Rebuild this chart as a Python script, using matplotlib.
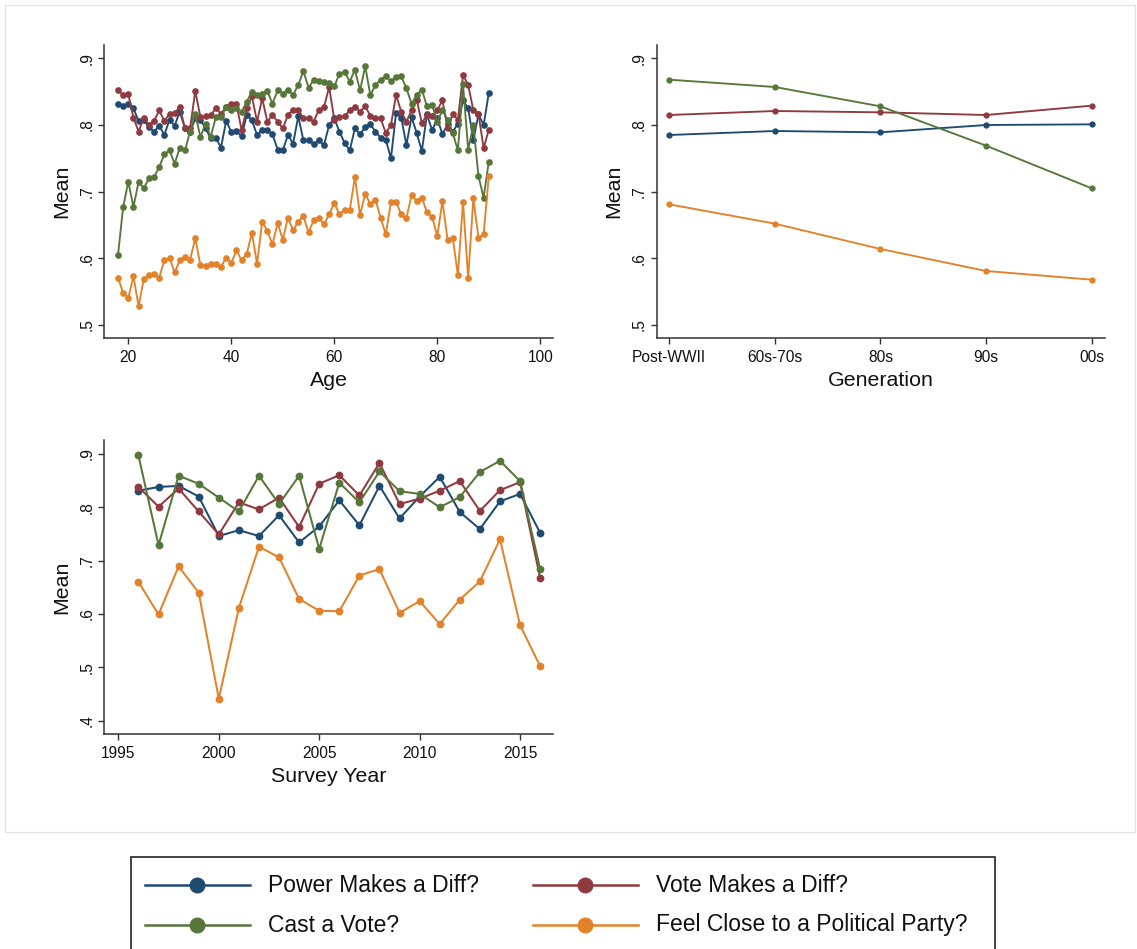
import matplotlib
matplotlib.use("Agg")
import matplotlib.pyplot as plt
from matplotlib.lines import Line2D
from matplotlib.patches import Rectangle
from matplotlib.ticker import FuncFormatter

plt.rcParams['font.family'] = ['Liberation Sans', 'DejaVu Sans']

# ---- data -------------------------------------------------------------
series_names = ["Power Makes a Diff?", "Vote Makes a Diff?",
                "Cast a Vote?", "Feel Close to a Political Party?"]
colors = ["#1f4a72", "#8f3a40", "#57773a", "#e2822a"]

ages = list(range(18, 91))
age_power = [0.831, 0.828, 0.832, 0.825, 0.806, 0.807, 0.797, 0.790, 0.799, 0.785,
             0.808, 0.799, 0.820, 0.795, 0.789, 0.810, 0.808, 0.795, 0.780, 0.781,
             0.766, 0.806, 0.790, 0.791, 0.783, 0.815, 0.807, 0.785, 0.793, 0.792,
             0.786, 0.763, 0.762, 0.785, 0.772, 0.813, 0.777, 0.778, 0.771, 0.777,
             0.770, 0.800, 0.810, 0.790, 0.773, 0.762, 0.795, 0.786, 0.797, 0.801,
             0.790, 0.781, 0.778, 0.750, 0.818, 0.811, 0.770, 0.812, 0.788, 0.761,
             0.816, 0.792, 0.810, 0.786, 0.801, 0.790, 0.802, 0.837, 0.825, 0.777,
             0.816, 0.800, 0.848]
age_vote = [0.852, 0.845, 0.846, 0.811, 0.790, 0.811, 0.800, 0.806, 0.822, 0.806,
            0.817, 0.818, 0.827, 0.795, 0.795, 0.851, 0.812, 0.813, 0.815, 0.825,
            0.817, 0.827, 0.831, 0.832, 0.792, 0.825, 0.843, 0.805, 0.840, 0.805,
            0.815, 0.805, 0.795, 0.815, 0.823, 0.823, 0.810, 0.810, 0.805, 0.823,
            0.827, 0.857, 0.808, 0.812, 0.813, 0.822, 0.827, 0.820, 0.828, 0.814,
            0.810, 0.810, 0.788, 0.800, 0.845, 0.820, 0.805, 0.822, 0.838, 0.803,
            0.815, 0.813, 0.822, 0.837, 0.795, 0.816, 0.808, 0.875, 0.860, 0.822,
            0.817, 0.765, 0.793]
age_cast = [0.605, 0.677, 0.715, 0.677, 0.715, 0.705, 0.720, 0.722, 0.737, 0.756,
            0.762, 0.742, 0.766, 0.762, 0.790, 0.817, 0.782, 0.802, 0.782, 0.812,
            0.812, 0.827, 0.822, 0.825, 0.820, 0.835, 0.850, 0.845, 0.847, 0.851,
            0.832, 0.852, 0.847, 0.853, 0.845, 0.860, 0.881, 0.856, 0.868, 0.866,
            0.865, 0.863, 0.858, 0.877, 0.880, 0.865, 0.883, 0.852, 0.888, 0.845,
            0.860, 0.868, 0.873, 0.866, 0.872, 0.873, 0.855, 0.832, 0.845, 0.853,
            0.828, 0.830, 0.805, 0.822, 0.808, 0.788, 0.762, 0.861, 0.763, 0.800,
            0.723, 0.691, 0.745]
age_close = [0.571, 0.548, 0.541, 0.573, 0.528, 0.569, 0.575, 0.577, 0.571, 0.597,
             0.601, 0.579, 0.597, 0.602, 0.598, 0.630, 0.590, 0.588, 0.591, 0.591,
             0.587, 0.601, 0.593, 0.612, 0.597, 0.607, 0.638, 0.592, 0.655, 0.641,
             0.621, 0.653, 0.628, 0.661, 0.642, 0.655, 0.663, 0.639, 0.657, 0.661,
             0.651, 0.666, 0.683, 0.666, 0.673, 0.672, 0.722, 0.665, 0.697, 0.681,
             0.688, 0.661, 0.636, 0.684, 0.684, 0.666, 0.660, 0.695, 0.686, 0.691,
             0.669, 0.662, 0.633, 0.686, 0.628, 0.631, 0.575, 0.685, 0.570, 0.690,
             0.631, 0.636, 0.723]

generations = ["Post-WWII", "60s-70s", "80s", "90s", "00s"]
gen_power = [0.785, 0.791, 0.789, 0.800, 0.801]
gen_vote = [0.815, 0.821, 0.819, 0.815, 0.829]
gen_cast = [0.868, 0.857, 0.828, 0.769, 0.705]
gen_close = [0.681, 0.652, 0.614, 0.581, 0.568]

years = list(range(1996, 2017))
year_power = [0.831, 0.838, 0.840, 0.820, 0.746, 0.757, 0.746, 0.785, 0.734, 0.764,
              0.813, 0.766, 0.840, 0.779, 0.820, 0.857, 0.791, 0.759, 0.811, 0.825,
              0.752]
year_vote = [0.838, 0.801, 0.835, 0.792, 0.749, 0.809, 0.796, 0.818, 0.763, 0.844,
             0.860, 0.822, 0.883, 0.806, 0.816, 0.831, 0.849, 0.793, 0.832, 0.847,
             0.667]
year_cast = [0.897, 0.729, 0.859, 0.844, 0.818, 0.792, 0.859, 0.806, 0.859, 0.722,
             0.846, 0.809, 0.867, 0.830, 0.825, 0.800, 0.819, 0.866, 0.887, 0.849,
             0.684]
year_close = [0.660, 0.599, 0.689, 0.640, 0.441, 0.611, 0.726, 0.706, 0.628, 0.606,
              0.605, 0.672, 0.684, 0.602, 0.624, 0.581, 0.627, 0.661, 0.740, 0.579,
              0.502]

# ---- figure -----------------------------------------------------------
W, H = 1137, 949
fig = plt.figure(figsize=(W / 100, H / 100), dpi=100)
fig.patch.set_facecolor("white")

INK = "#333333"


def add_px_axes(left, top, right, bottom):
    return fig.add_axes([left / W, 1 - bottom / H, (right - left) / W, (bottom - top) / H])


def dot_fmt(v, _pos):
    s = f"{v:.1f}"
    return s[1:] if s.startswith("0") else s


def style(ax, xlabel):
    for s in ("top", "right"):
        ax.spines[s].set_visible(False)
    for s in ("left", "bottom"):
        ax.spines[s].set_color(INK)
        ax.spines[s].set_linewidth(1.1)
    ax.tick_params(direction="out", length=4, width=1.0, color=INK,
                   labelsize=11.2, labelcolor="#111111")
    ax.tick_params(axis="x", pad=4.5)
    ax.tick_params(axis="y", pad=3, labelrotation=90)
    ax.yaxis.set_major_formatter(FuncFormatter(dot_fmt))
    for lab in ax.get_yticklabels():
        lab.set_va("center")
    ax.set_ylabel("Mean", fontsize=15.4, va="center", color="#111111")
    ax.yaxis.set_label_coords(-0.095, 0.5)
    ax.set_xlabel(xlabel, fontsize=15.4, va="center", color="#111111")
    ax.xaxis.set_label_coords(0.5, -0.145)


def draw_series(ax, x, ys, ms, lw):
    for y, c in zip(ys, colors):
        ax.plot(x, y, color=c, lw=lw, marker="o", ms=ms, mec=c, mfc=c,
                solid_joinstyle="round")


# Mean by age
ax1 = add_px_axes(104, 45, 553, 338)
draw_series(ax1, ages, [age_power, age_vote, age_cast, age_close], 3.8, 1.35)
ax1.set_xlim(15.28, 102.47)
ax1.set_ylim(0.4805, 0.92)
ax1.set_xticks([20, 40, 60, 80, 100])
ax1.set_yticks([0.5, 0.6, 0.7, 0.8, 0.9])
style(ax1, "Age")

# Mean by generation
ax2 = add_px_axes(656.7, 45, 1105, 338)
gx = list(range(len(generations)))
draw_series(ax2, gx, [gen_power, gen_vote, gen_cast, gen_close], 3.5, 1.35)
ax2.set_xlim(-0.119, 4.126)
ax2.set_ylim(0.4805, 0.92)
ax2.set_xticks(gx)
ax2.set_xticklabels(generations)
ax2.set_yticks([0.5, 0.6, 0.7, 0.8, 0.9])
style(ax2, "Generation")

# Mean by survey year
ax3 = add_px_axes(104.3, 440, 553, 734)
draw_series(ax3, years, [year_power, year_vote, year_cast, year_close], 4.6, 1.45)
ax3.set_xlim(1994.30, 2016.64)
ax3.set_ylim(0.375, 0.926)
ax3.set_xticks([1995, 2000, 2005, 2010, 2015])
ax3.set_yticks([0.4, 0.5, 0.6, 0.7, 0.8, 0.9])
style(ax3, "Survey Year")

# outer frame of the graph region
fig.add_artist(Rectangle((5 / W, 1 - 832 / H), 1130 / W, 827 / H,
                         transform=fig.transFigure, fill=False,
                         ec="#e2e2e2", lw=0.9))

# legend box
fig.add_artist(Rectangle((131 / W, 1 - 965 / H), (995 - 131) / W, (965 - 857) / H,
                         transform=fig.transFigure, fill=False,
                         ec="#222222", lw=1.2))
entries = [(0, 0, 885), (1, 1, 885), (2, 0, 925), (3, 1, 925)]
col_x = [145, 533]
for idx, col, ypx in entries:
    x0 = col_x[col]
    yf = 1 - ypx / H
    fig.add_artist(Line2D([x0 / W, (x0 + 105) / W], [yf, yf],
                          transform=fig.transFigure, color=colors[idx], lw=1.8))
    fig.add_artist(Line2D([(x0 + 52) / W], [yf], transform=fig.transFigure,
                          color=colors[idx], marker="o", ms=10.5, lw=0))
    fig.text((x0 + 123) / W, yf, series_names[idx], fontsize=16.5,
             va="center", ha="left", color="#111111")

fig.savefig("out.png", dpi=100, facecolor="white")
